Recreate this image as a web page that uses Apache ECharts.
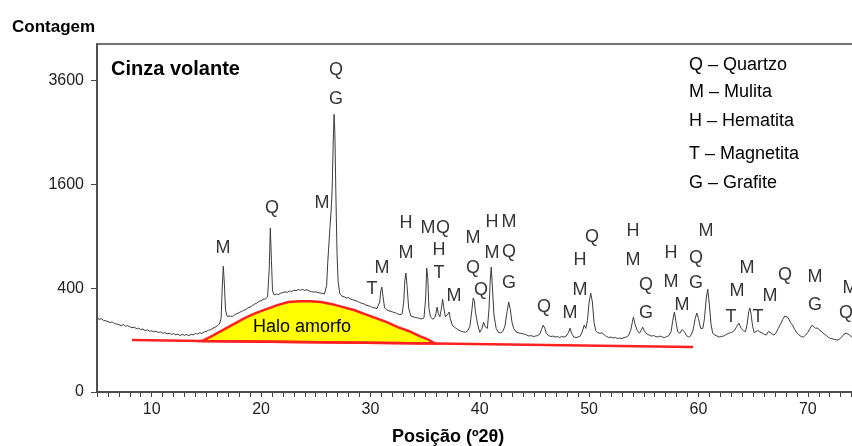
<!DOCTYPE html>
<html>
<head>
<meta charset="utf-8">
<script src="https://cdn.jsdelivr.net/npm/echarts@6/dist/echarts.min.js"></script>
<style>
  html, body { margin: 0; padding: 0; background: #fff; }
  #chart { width: 852px; height: 446px; }
</style>
</head>
<body>
<div id="chart"></div>
<script>
// difratograma: [2θ (graus), contagem]
const trace = [
  [5.0, 202], [5.2, 196], [5.4, 199], [5.6, 190], [5.8, 188], [6.0, 184], [6.2, 179], [6.4, 182], [6.6, 174], [6.8, 171],
  [7.0, 168], [7.2, 164], [7.4, 168], [7.6, 161], [7.8, 163], [8.0, 158], [8.2, 153], [8.4, 156], [8.6, 149], [8.8, 151],
  [9.0, 145], [9.2, 147], [9.4, 140], [9.6, 143], [9.8, 137], [10.0, 139], [10.2, 134], [10.4, 137], [10.6, 131], [10.8, 134],
  [11.0, 128], [11.2, 131], [11.4, 125], [11.6, 128], [11.8, 123], [12.0, 126], [12.2, 121], [12.4, 124], [12.6, 118], [12.8, 123],
  [13.0, 119], [13.2, 122], [13.4, 117], [13.6, 124], [13.8, 121], [14.0, 127], [14.2, 124], [14.4, 130], [14.6, 127], [14.8, 134],
  [15.0, 136], [15.2, 141], [15.4, 144], [15.6, 150], [15.8, 156], [16.0, 162], [16.2, 172], [16.35, 200], [16.45, 400], [16.55, 587],
  [16.65, 430], [16.75, 250], [16.9, 212], [17.0, 206], [17.2, 214], [17.4, 211], [17.6, 222], [17.8, 228], [18.0, 234], [18.2, 240],
  [18.4, 247], [18.6, 252], [18.8, 262], [19.0, 268], [19.2, 276], [19.4, 286], [19.6, 292], [19.8, 304], [20.0, 309], [20.2, 318],
  [20.4, 322], [20.6, 335], [20.75, 560], [20.85, 995], [20.95, 640], [21.05, 380], [21.2, 350], [21.4, 356], [21.6, 352], [21.8, 362],
  [22.0, 366], [22.2, 372], [22.4, 368], [22.6, 378], [22.8, 374], [23.0, 384], [23.2, 380], [23.4, 389], [23.6, 384], [23.8, 390],
  [24.0, 383], [24.2, 388], [24.4, 378], [24.6, 374], [24.8, 370], [25.0, 372], [25.2, 366], [25.4, 364], [25.6, 360], [25.8, 356],
  [26.0, 420], [26.1, 620], [26.2, 800], [26.3, 1000], [26.4, 1200], [26.5, 1500], [26.6, 2300], [26.68, 2858], [26.75, 2500], [26.85, 1400],
  [26.95, 700], [27.05, 450], [27.2, 360], [27.4, 340], [27.6, 336], [27.8, 328], [28.0, 330], [28.2, 320], [28.4, 316], [28.6, 310],
  [28.8, 305], [29.0, 298], [29.2, 292], [29.4, 288], [29.6, 280], [29.8, 276], [30.0, 272], [30.2, 264], [30.4, 262], [30.6, 258],
  [30.75, 262], [30.85, 300], [30.95, 380], [31.05, 408], [31.15, 340], [31.3, 262], [31.5, 250], [31.7, 244], [31.9, 240], [32.1, 236],
  [32.3, 232], [32.5, 226], [32.7, 222], [32.9, 226], [33.05, 300], [33.15, 460], [33.25, 524], [33.35, 420], [33.5, 260], [33.7, 214],
  [33.9, 210], [34.1, 206], [34.3, 204], [34.5, 200], [34.7, 198], [34.9, 204], [35.05, 320], [35.15, 569], [35.25, 480], [35.35, 260],
  [35.5, 210], [35.7, 196], [35.9, 206], [36.0, 230], [36.1, 267], [36.2, 230], [36.35, 210], [36.5, 260], [36.6, 320], [36.7, 270],
  [36.85, 210], [37.0, 200], [37.1, 225], [37.2, 237], [37.3, 200], [37.5, 165], [37.7, 155], [37.9, 148], [38.1, 142], [38.3, 136],
  [38.5, 134], [38.7, 132], [38.9, 140], [39.1, 160], [39.3, 260], [39.4, 327], [39.5, 310], [39.6, 240], [39.8, 170], [40.0, 132],
  [40.2, 150], [40.35, 180], [40.5, 158], [40.7, 150], [40.85, 260], [40.95, 450], [41.05, 578], [41.15, 420], [41.3, 220], [41.5, 150],
  [41.7, 132], [41.9, 130], [42.1, 135], [42.3, 160], [42.5, 240], [42.65, 300], [42.8, 250], [42.95, 180], [43.1, 150], [43.3, 135],
  [43.5, 130], [43.7, 128], [43.9, 126], [44.1, 124], [44.3, 120], [44.5, 116], [44.7, 118], [44.9, 114], [45.1, 116], [45.3, 118],
  [45.5, 125], [45.65, 145], [45.8, 166], [45.95, 150], [46.1, 126], [46.3, 118], [46.5, 114], [46.7, 116], [46.9, 112], [47.1, 114],
  [47.3, 110], [47.5, 114], [47.7, 112], [47.9, 116], [48.1, 130], [48.25, 151], [48.4, 128], [48.6, 112], [48.8, 110], [49.0, 112],
  [49.2, 116], [49.4, 138], [49.55, 166], [49.7, 150], [49.85, 190], [50.0, 300], [50.15, 362], [50.3, 300], [50.45, 180], [50.6, 140],
  [50.8, 130], [51.0, 128], [51.2, 130], [51.4, 120], [51.6, 114], [51.8, 110], [52.0, 112], [52.2, 108], [52.4, 110], [52.6, 106],
  [52.8, 108], [53.0, 106], [53.2, 110], [53.4, 112], [53.6, 118], [53.8, 140], [53.95, 180], [54.05, 208], [54.2, 170], [54.4, 140],
  [54.6, 128], [54.75, 140], [54.9, 156], [55.05, 138], [55.3, 124], [55.5, 120], [55.7, 116], [55.9, 118], [56.1, 114], [56.3, 112],
  [56.5, 116], [56.7, 112], [56.9, 110], [57.1, 114], [57.3, 118], [57.5, 135], [57.65, 190], [57.8, 237], [57.95, 180], [58.1, 135],
  [58.3, 128], [58.5, 145], [58.6, 151], [58.75, 132], [58.9, 118], [59.1, 112], [59.3, 118], [59.5, 140], [59.7, 200], [59.85, 231],
  [60.0, 200], [60.2, 150], [60.4, 150], [60.55, 200], [60.7, 320], [60.85, 392], [61.0, 280], [61.15, 170], [61.3, 128], [61.5, 120],
  [61.7, 116], [61.9, 112], [62.1, 114], [62.3, 116], [62.5, 122], [62.7, 126], [62.9, 130], [63.1, 134], [63.3, 140], [63.5, 160],
  [63.7, 176], [63.9, 150], [64.1, 140], [64.3, 135], [64.45, 170], [64.6, 240], [64.7, 261], [64.8, 230], [64.95, 160], [65.1, 130],
  [65.25, 132], [65.4, 140], [65.6, 134], [65.8, 130], [66.0, 124], [66.2, 120], [66.4, 136], [66.5, 140], [66.7, 126], [66.9, 120],
  [67.1, 130], [67.3, 150], [67.5, 170], [67.7, 195], [67.9, 214], [68.0, 219], [68.2, 205], [68.4, 180], [68.6, 166], [68.8, 145],
  [69.0, 130], [69.2, 120], [69.4, 114], [69.6, 112], [69.8, 120], [70.0, 132], [70.2, 150], [70.4, 166], [70.55, 158], [70.7, 150],
  [70.9, 152], [71.1, 140], [71.3, 134], [71.5, 124], [71.7, 118], [71.9, 110], [72.1, 106], [72.3, 104], [72.5, 102], [72.7, 100],
  [72.9, 104], [73.1, 112], [73.3, 124], [73.5, 128], [73.6, 131], [73.8, 122], [74.0, 112], [74.2, 118], [74.4, 114], [74.6, 120],
  [74.8, 116], [75.0, 118]
]

// halo amorfo: borda superior e linha de base
const haloTop = [
  [14.6, 96], [15.5, 116], [16.5, 142], [17.5, 171], [18.5, 202], [19.5, 231], [20.5, 255], [21.5, 280], [22.5, 300], [23.5, 306],
  [24.5, 306], [25.5, 300], [26.5, 286], [27.5, 267], [28.5, 249], [29.5, 225], [30.5, 202], [31.5, 181], [32.5, 156], [33.5, 138],
  [34.5, 116], [35.2, 104], [35.9, 87]
]
const haloBase = [[8.2, 100], [14.6, 96], [35.9, 87], [59.5, 75]]

// identificação das fases: [2θ, contagem, letra]
const peakLabels = [
  [16.49, 767, "M"], [20.97, 1252, "Q"], [25.54, 1321, "M"], [26.82, 3834, "Q"], [26.82, 3175, "G"],
  [30.11, 392, "T"], [31.02, 569, "M"], [33.22, 1056, "H"], [33.22, 715, "M"],
  [35.23, 995, "M"], [36.6, 995, "Q"], [36.23, 746, "H"], [36.23, 524, "T"], [37.6, 341, "M"],
  [39.34, 877, "M"], [39.34, 569, "Q"], [40.07, 385, "Q"], [41.08, 1069, "H"], [41.08, 715, "M"],
  [42.72, 1069, "M"], [42.72, 725, "Q"], [42.72, 439, "G"], [45.83, 267, "Q"], [48.21, 231, "M"],
  [50.22, 888, "Q"], [49.21, 644, "H"], [49.21, 385, "M"], [53.97, 959, "H"], [53.97, 644, "M"],
  [55.16, 423, "Q"], [55.16, 231, "G"], [57.53, 715, "H"], [57.53, 448, "M"], [58.54, 280, "M"],
  [60.73, 959, "M"], [59.82, 664, "Q"], [59.82, 439, "G"], [64.48, 569, "M"], [63.56, 377, "M"],
  [63.02, 208, "T"], [65.48, 208, "T"], [66.58, 341, "M"], [67.95, 506, "Q"], [70.69, 489, "M"],
  [70.69, 280, "G"], [73.89, 400, "M"], [73.53, 231, "Q"]
]

const yTicks = [0, 400, 1600, 3600]
const legendLines = ["Q – Quartzo", "M – Mulita", "H – Hematita", "T – Magnetita", "G – Grafite"]

const FONT = '"Liberation Sans", Arial, sans-serif'
const sq = p => [p[0], Math.sqrt(p[1])]
const yStep = Math.sqrt(yTicks[1])

const chart = echarts.init(document.getElementById("chart"))

const legendY = [65, 92, 121, 154, 183]
const graphics = [
  { type: "text", x: 12, y: 27, style: { text: "Contagem", font: "bold 17px " + FONT, fill: "#000", verticalAlign: "middle" } },
  { type: "text", x: 111, y: 69, style: { text: "Cinza volante", font: "bold 20px " + FONT, fill: "#000", verticalAlign: "middle" } },
  { type: "text", x: 392, y: 437, style: { text: "Posição (º2θ)", font: "bold 18px " + FONT, fill: "#000", verticalAlign: "middle" } },
  { type: "text", x: 253, y: 327, z: 10, style: { text: "Halo amorfo", font: "18px " + FONT, fill: "#000", verticalAlign: "middle" } }
]
legendLines.forEach((t, i) => {
  graphics.push({ type: "text", x: 689, y: legendY[i], style: { text: t, font: "18px " + FONT, fill: "#000", verticalAlign: "middle" } })
})

const option = {
  animation: false,
  backgroundColor: "#fff",
  grid: {
    left: 97, right: -10.5, top: 44, bottom: 54,
    containLabel: false, outerBoundsMode: "none",
    show: true, borderColor: "#444", borderWidth: 1.5
  },
  xAxis: {
    type: "value",
    min: 5,
    max: 75,
    interval: 1,
    axisLine: { lineStyle: { color: "#444", width: 1.5 } },
    axisTick: { show: true, length: 5, lineStyle: { color: "#444" } },
    axisLabel: {
      formatter: v => (v % 10 === 0 ? String(v) : ""),
      fontSize: 16, fontFamily: FONT, color: "#222", margin: 10
    },
    splitLine: { show: false }
  },
  yAxis: {
    type: "value",
    min: 0,
    max: 67,
    interval: yStep,
    axisLine: { show: true, lineStyle: { color: "#444", width: 1.5 } },
    axisTick: { show: true, length: 6, lineStyle: { color: "#444" } },
    axisLabel: {
      formatter: v => (v % yStep === 0 ? String(Math.round(v * v)) : ""),
      showMaxLabel: false,
      fontSize: 16, fontFamily: FONT, color: "#222", margin: 13
    },
    splitLine: { show: false }
  },
  graphic: graphics,
  series: [
    {
      // halo amorfo (polígono amarelo)
      type: "custom",
      z: 1,
      silent: true,
      data: [[haloTop[0][0], 0]],
      renderItem: (params, api) => {
        const pts = haloTop.concat(haloBase.slice(1, 3).reverse()).map(p => api.coord(sq(p)))
        return {
          type: "polygon",
          shape: { points: pts },
          style: { fill: "#ffff00", stroke: "#ff2020", lineWidth: 2.5 }
        }
      }
    },
    {
      type: "line",
      z: 2,
      data: haloBase.map(sq),
      symbol: "none",
      lineStyle: { color: "#ff2020", width: 2.5 },
      silent: true
    },
    {
      type: "line",
      z: 3,
      data: trace.map(sq),
      symbol: "none",
      lineStyle: { color: "#3c3c3c", width: 1 },
      silent: true
    },
    {
      type: "scatter",
      z: 4,
      data: peakLabels.map(p => [p[0], Math.sqrt(p[1]), p[2]]),
      symbolSize: 1,
      itemStyle: { color: "rgba(0,0,0,0)" },
      label: {
        show: true,
        position: "inside",
        formatter: p => p.data[2],
        fontSize: 18,
        fontFamily: FONT,
        color: "#000",
        textBorderWidth: 0
      },
      // posições inteiras para letras nítidas
      labelLayout: p => ({
        x: Math.round(p.rect.x + p.rect.width / 2),
        y: Math.round(p.rect.y + p.rect.height / 2),
        align: "center",
        verticalAlign: "middle"
      }),
      silent: true
    }
  ]
}
chart.setOption(option)
</script>
</body>
</html>
